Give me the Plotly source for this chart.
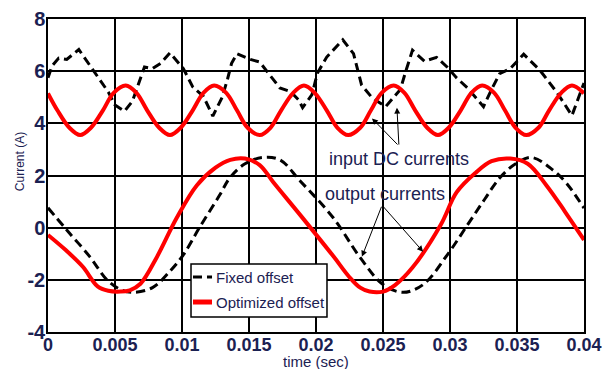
import plotly.graph_objects as go

# Input DC current, fixed offset (A)
fixed_in_t = [0.0000, 0.0003, 0.0008, 0.0014, 0.0023, 0.0035, 0.0045, 0.0050, 0.0057, 0.0063,
              0.0069, 0.0072, 0.0078, 0.0084, 0.0091, 0.0101, 0.0108, 0.0116, 0.0123, 0.0130,
              0.0134, 0.0137, 0.0141, 0.0151, 0.0158, 0.0167, 0.0173, 0.0181, 0.0187, 0.0190,
              0.0197, 0.0201, 0.0208, 0.0220, 0.0228, 0.0234, 0.0242, 0.0252, 0.0257, 0.0263,
              0.0267, 0.0272, 0.0281, 0.0290, 0.0298, 0.0305, 0.0313, 0.0325, 0.0331, 0.0337,
              0.0345, 0.0355, 0.0367, 0.0380, 0.0391, 0.0400]
fixed_in_i = [5.75, 6.20, 6.50, 6.45, 6.83, 5.92, 5.20, 4.70, 4.46, 4.85,
              5.70, 6.16, 6.10, 6.30, 6.70, 6.10, 5.40, 5.03, 4.28, 5.00,
              5.70, 6.30, 6.67, 6.45, 6.35, 5.74, 5.36, 5.22, 4.90, 4.60,
              5.10, 5.92, 6.54, 7.20, 6.67, 5.47, 4.97, 4.64, 4.95, 5.30,
              6.00, 6.80, 6.38, 6.53, 6.15, 5.74, 5.36, 4.64, 5.30, 5.90,
              6.10, 6.65, 6.04, 5.17, 4.30, 5.55]

# Input DC current, optimized offset (A)
opt_in_t = [0.0000, 0.0007, 0.0016, 0.0024, 0.0032, 0.0041, 0.0049, 0.0058, 0.0066, 0.0074,
            0.0083, 0.0091, 0.0099, 0.0108, 0.0116, 0.0124, 0.0133, 0.0141, 0.0149, 0.0158,
            0.0166, 0.0174, 0.0183, 0.0191, 0.0199, 0.0208, 0.0216, 0.0224, 0.0233, 0.0241,
            0.0249, 0.0258, 0.0266, 0.0274, 0.0283, 0.0291, 0.0299, 0.0308, 0.0316, 0.0324,
            0.0333, 0.0341, 0.0349, 0.0357, 0.0366, 0.0374, 0.0383, 0.0391, 0.0400]
opt_in_i = [5.15, 4.50, 3.83, 3.55, 3.83, 4.50, 5.17, 5.45, 5.17, 4.50,
            3.83, 3.55, 3.83, 4.50, 5.17, 5.45, 5.17, 4.50, 3.83, 3.55,
            3.83, 4.50, 5.17, 5.45, 5.17, 4.50, 3.83, 3.55, 3.83, 4.50,
            5.17, 5.45, 5.17, 4.50, 3.83, 3.55, 3.83, 4.50, 5.17, 5.45,
            5.17, 4.50, 3.83, 3.55, 3.83, 4.50, 5.17, 5.45, 5.15]

# Output current, fixed offset (A)
fixed_out_t = [0.0000, 0.0014, 0.0031, 0.0044, 0.0054, 0.0063, 0.0078, 0.0091, 0.0101, 0.0113,
               0.0128, 0.0136, 0.0147, 0.0160, 0.0173, 0.0188, 0.0213, 0.0233, 0.0250, 0.0265,
               0.0280, 0.0298, 0.0313, 0.0326, 0.0337, 0.0349, 0.0361, 0.0377, 0.0387, 0.0400]
fixed_out_i = [0.76, -0.09, -1.10, -2.00, -2.37, -2.48, -2.30, -1.67, -1.04, 0.00,
               1.24, 1.93, 2.45, 2.69, 2.60, 1.80, 0.37, -1.15, -2.18, -2.48,
               -2.18, -1.04, 0.10, 1.10, 1.90, 2.45, 2.69, 2.20, 1.70, 0.75]

# Output current, optimized offset (A)
opt_out_t = [0.0000, 0.0013, 0.0026, 0.0037, 0.0045, 0.0054, 0.0061, 0.0069, 0.0081, 0.0096,
             0.0111, 0.0125, 0.0136, 0.0147, 0.0158, 0.0168, 0.0188, 0.0213, 0.0225, 0.0233,
             0.0240, 0.0250, 0.0259, 0.0272, 0.0293, 0.0305, 0.0319, 0.0331, 0.0345, 0.0358,
             0.0372, 0.0386, 0.0400]
opt_out_i = [-0.28, -0.85, -1.50, -2.25, -2.42, -2.45, -2.40, -2.15, -1.15, 0.37,
             1.62, 2.30, 2.60, 2.65, 2.40, 1.75, 0.50, -1.10, -1.90, -2.30,
             -2.45, -2.45, -2.20, -1.53, 0.10, 1.36, 2.10, 2.55, 2.65, 2.45,
             1.62, 0.60, -0.47]

x_ticks = [0, 0.005, 0.01, 0.015, 0.02, 0.025, 0.03, 0.035, 0.04]
x_tick_labels = ["0", "0.005", "0.01", "0.015", "0.02", "0.025", "0.03", "0.035", "0.04"]
y_ticks = [-4, -2, 0, 2, 4, 6, 8]
y_tick_labels = ["-4", "-2", "0", "2", "4", "6", "8"]

legend_names = ["Fixed offset", "Optimized offset"]

NAVY = "#1b2152"
FONT = "Liberation Sans, Arial, sans-serif"
BLACK_DASH = "9px,5px"

fig = go.Figure()
fig.add_trace(go.Scatter(x=fixed_in_t, y=fixed_in_i, mode="lines",
                         line=dict(color="black", width=3, dash=BLACK_DASH),
                         showlegend=False))
fig.add_trace(go.Scatter(x=fixed_out_t, y=fixed_out_i, mode="lines",
                         line=dict(color="black", width=3, dash=BLACK_DASH, shape="spline"),
                         showlegend=False))
fig.add_trace(go.Scatter(x=opt_in_t, y=opt_in_i, mode="lines",
                         line=dict(color="#ff0000", width=4, shape="spline"),
                         showlegend=False))
fig.add_trace(go.Scatter(x=opt_out_t, y=opt_out_i, mode="lines",
                         line=dict(color="#ff0000", width=4, shape="spline"),
                         showlegend=False))

axis_common = dict(showgrid=True, gridcolor="black", gridwidth=1.5,
                   showline=True, linecolor="black", linewidth=1.5, mirror=True,
                   zeroline=False, ticks="", automargin=False)

fig.update_xaxes(range=[-1e-9, 0.04 + 1e-9], tickvals=x_ticks, ticktext=x_tick_labels,
                 tickfont=dict(family=FONT, size=18, color=NAVY, weight="bold"),
                 ticklabelstandoff=-4, **axis_common)
fig.update_yaxes(range=[-4, 8], tickvals=y_ticks, ticktext=y_tick_labels,
                 tickfont=dict(family=FONT, size=20, color=NAVY, weight="bold"),
                 ticklabelstandoff=-3, **axis_common)

annotations = []
# Callout labels
annotations.append(dict(x=0.02619, y=2.64, xref="x", yref="y", text="input DC currents",
                        showarrow=False, xanchor="center", yanchor="middle",
                        font=dict(family=FONT, size=18, color=NAVY)))
annotations.append(dict(x=0.02515, y=1.28, xref="x", yref="y", text="output currents",
                        showarrow=False, xanchor="center", yanchor="middle",
                        font=dict(family=FONT, size=18, color=NAVY)))
# Pointer arrows (tail -> head)
arrows = [((0.02619, 3.13), (0.02418, 4.19)),
          ((0.02619, 3.13), (0.02604, 4.60)),
          ((0.02493, 0.86), (0.02343, -1.11)),
          ((0.02493, 0.86), (0.02799, -0.92))]
for (tx, ty), (hx, hy) in arrows:
    annotations.append(dict(x=hx, y=hy, ax=tx, ay=ty, xref="x", yref="y",
                            axref="x", ayref="y", text="", showarrow=True,
                            arrowhead=2, arrowsize=1.2, arrowwidth=1, arrowcolor="black"))

# Axis titles
annotations.append(dict(x=0.5, y=-0.095, xref="paper", yref="paper", text="time (sec)",
                        showarrow=False, xanchor="center", yanchor="middle",
                        font=dict(family=FONT, size=15, color=NAVY)))
annotations.append(dict(x=-0.052, y=0.543, xref="paper", yref="paper", text="Current (A)",
                        showarrow=False, textangle=-90, xanchor="center", yanchor="middle",
                        font=dict(family=FONT, size=12, color=NAVY)))

# Legend entries
legend_rows = [(0.1757, "black", BLACK_DASH, 3), (0.0958, "#ff0000", "solid", 5)]
shapes = [dict(type="rect", xref="paper", yref="paper", x0=0.2668, x1=0.5205,
               y0=0.0479, y1=0.2173, line=dict(color="black", width=1.5),
               fillcolor="white", layer="above")]
for (ly, col, dash, w), name in zip(legend_rows, legend_names):
    shapes.append(dict(type="line", xref="paper", yref="paper", x0=0.2705, x1=0.3060,
                       y0=ly, y1=ly, line=dict(color=col, width=w, dash=dash), layer="above"))
    annotations.append(dict(x=0.3097, y=ly, xref="paper", yref="paper", text=name,
                            showarrow=False, xanchor="left", yanchor="middle",
                            font=dict(family=FONT, size=15, color=NAVY)))

fig.update_layout(width=602, height=369, autosize=False,
                  margin=dict(l=48, r=18, t=19, b=37, autoexpand=False),
                  plot_bgcolor="white", paper_bgcolor="white",
                  annotations=annotations, shapes=shapes, showlegend=False)

fig.write_html("out.html")
